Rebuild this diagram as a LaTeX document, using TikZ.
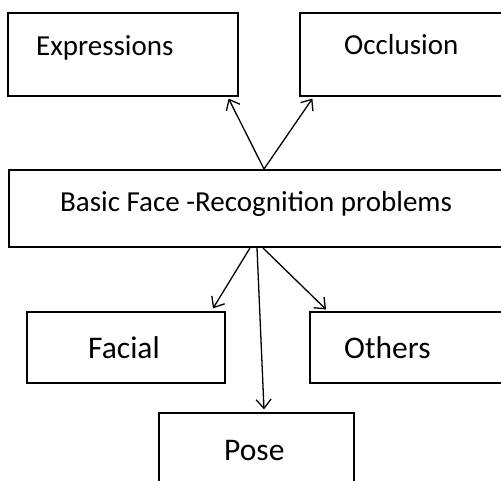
\documentclass[tikz,border=0pt]{standalone}
\usepackage{fontspec}
\setmainfont{Carlito}
\usepackage{tikz}
\usetikzlibrary{arrows.meta}

\tikzset{
  probbox/.style={draw,line width=1.2pt,minimum width=#1,inner sep=0pt},
  lbl/.style={anchor=base west,inner sep=0pt,font=\fontsize{29}{32}\selectfont},
  biglbl/.style={lbl,font=\fontsize{31.5}{34}\selectfont},
  link/.style={line width=1.3pt,-{Straight Barb[length=9pt,width=15pt,line width=1.3pt]}}
}

\begin{document}
\begin{tikzpicture}[x=1pt,y=-1pt]
\useasboundingbox (0,0) rectangle (501,481);
\clip (0,0) rectangle (501,481);
% boxes
\node[probbox=230pt,minimum height=83pt] (expr) at (123,54.5) {};
\node[probbox=220pt,minimum height=83pt] (occl) at (410,54.5) {};
\node[probbox=511pt,minimum height=77pt,line width=2pt] (basic) at (264.5,208.5) {};
\node[probbox=198pt,minimum height=71pt] (facial) at (126,347.5) {};
\node[probbox=210pt,minimum height=71pt] (others) at (415,347.5) {};
\node[probbox=195pt,minimum height=87pt] (pose) at (256.5,456.5) {};
% labels
\node[lbl] (exprt) at (36,56) {Expressions};
\node[lbl] (occlt) at (344,55) {Occlusion};
\node[lbl] (basict) at (60,212) {Basic Face -Recognition problems};
\node[biglbl] (facialt) at (88,358) {Facial};
\node[biglbl] (otherst) at (344,358) {Others};
\node[biglbl] (poset) at (224,460) {Pose};
% arrows
\draw[link] ([xshift=-0.5pt]basic.north) -- ([xshift=-10pt,yshift=-2pt]expr.south east);
\draw[link] ([xshift=-0.5pt]basic.north) -- ([xshift=13pt,yshift=-2pt]occl.south west);
\draw[link] ([xshift=-14.5pt]basic.south) -- ([xshift=87pt,yshift=3pt]facial.north);
\draw[link] ([xshift=-7.5pt]basic.south) -- ([xshift=7.5pt,yshift=3pt]pose.north);
\draw[link] ([xshift=-1.5pt]basic.south) -- ([xshift=-89pt,yshift=2pt]others.north);
\end{tikzpicture}
\end{document}
